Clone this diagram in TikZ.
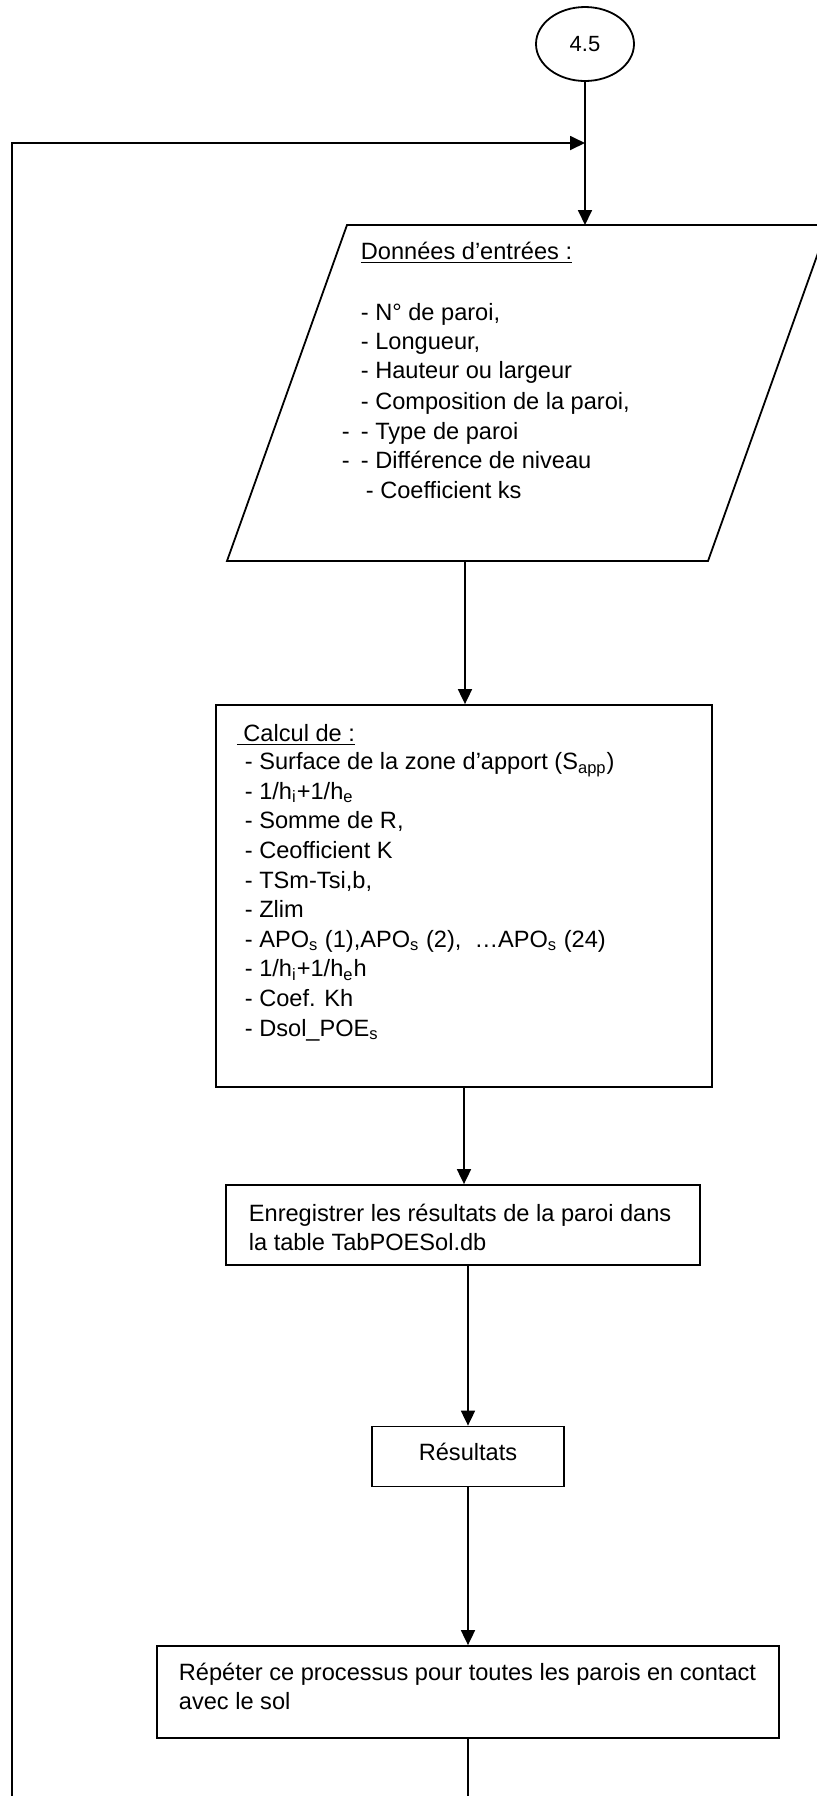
\documentclass[tikz,border=0pt]{standalone}
\usepackage{fontspec}
\setmainfont{Liberation Sans}
\usetikzlibrary{arrows.meta,shapes.geometric}
\begin{document}
\begin{tikzpicture}[x=0.5pt,y=-0.5pt,
  line width=0.9pt,
  arr/.style={-{Triangle[length=7.5pt,width=7pt]}},
  box/.style={draw,rectangle,inner sep=0pt,line width=0.9pt},
  txt/.style={anchor=base west,inner sep=0pt,font=\fontsize{11.8}{14}\selectfont},
]
\useasboundingbox (0,0) rectangle (817,1796);
% start connector
\node[draw,ellipse,minimum width=49pt,minimum height=37pt,inner sep=0pt,line width=0.9pt,font=\fontsize{11}{13}\selectfont] (start) at (585,44) {4.5};
\coordinate (J) at (585,143);
% input parallelogram
\coordinate (ptl) at (347,225);
\coordinate (ptr) at (828,225);
\coordinate (pbr) at (708,561);
\coordinate (pbl) at (227,561);
\draw[line width=0.9pt] (ptl) -- (ptr) -- (pbr) -- (pbl) -- cycle;
\coordinate (pin) at (585,225);
\coordinate (pout) at (465,561);
% boxes
\node[box,minimum width=248pt,minimum height=191pt] (calc) at (464,896) {};
\node[box,minimum width=237pt,minimum height=40pt] (enr) at (463,1225) {};
\node[box,minimum width=96pt,minimum height=30pt] (res) at (468,1456.5) {};
\node[box,minimum width=311pt,minimum height=46pt] (rep) at (468,1692) {};
% connectors
\draw[arr] (start) -- (pin);
\draw[arr] (pout) -- (pout |- calc.north);
\draw[arr] (calc.south) -- (calc.south |- enr.north);
\draw[arr] (res.north |- enr.south) -- (res.north);
\draw[arr] (res.south) -- (res.south |- rep.north);
\draw[arr] (rep.south) -- (468,1808) -- (12,1808) -- (12,143) -- (J);
% texts of the parallelogram
\node[txt] (d0) at (360,259) {\underline{Données d’entrées :}};
\node[txt] (d1) at (360,320) {- N° de paroi,};
\node[txt] (d2) at (360,349.5) {- Longueur,};
\node[txt] (d3) at (360,378.5) {- Hauteur ou largeur};
\node[txt] (d4) at (360,409) {- Composition de la paroi,};
\node[txt] (d5) at (341,439) {\makebox[9.5pt][l]{-}- Type de paroi};
\node[txt] (d6) at (341,468) {\makebox[9.5pt][l]{-}- Différence de niveau};
\node[txt] (d7) at (365,498) {- Coefficient ks};
% texts of the calculation box
\node[txt] (c0) at (236,741) {\underline{\ Calcul de :}};
\node[txt] (c1) at (244,769.5) {- Surface de la zone d’apport (S\textsubscript{app})};
\node[txt] (c2) at (244,799) {- 1/h\textsubscript{i}+1/h\textsubscript{e}};
\node[txt] (c3) at (244,828.5) {- Somme de R,};
\node[txt] (c4) at (244,858) {- Ceofficient K};
\node[txt] (c5) at (244,888) {- TSm-Tsi,b,};
\node[txt] (c6) at (244,917.5) {- Zlim};
\node[txt] (c7) at (244,947) {- APO\textsubscript{s} (1),APO\textsubscript{s} (2),\ \ …APO\textsubscript{s} (24)};
\node[txt] (c8) at (244,976.5) {- 1/h\textsubscript{i}+1/h\textsubscript{e}h};
\node[txt] (c9) at (244,1006) {- Coef. Kh};
\node[txt] (c10) at (244,1036) {- Dsol\_POE\textsubscript{s}};
% texts of the other boxes
\node[txt] (e1) at (248,1221) {Enregistrer les résultats de la paroi dans};
\node[txt] (e2) at (248,1250.5) {la table TabPOESol.db};
\node[txt,anchor=base] (r0) at (468,1460) {Résultats};
\node[txt] (p1) at (178,1680) {Répéter ce processus pour toutes les parois en contact};
\node[txt] (p2) at (178,1709) {avec le sol};
\end{tikzpicture}
\end{document}
